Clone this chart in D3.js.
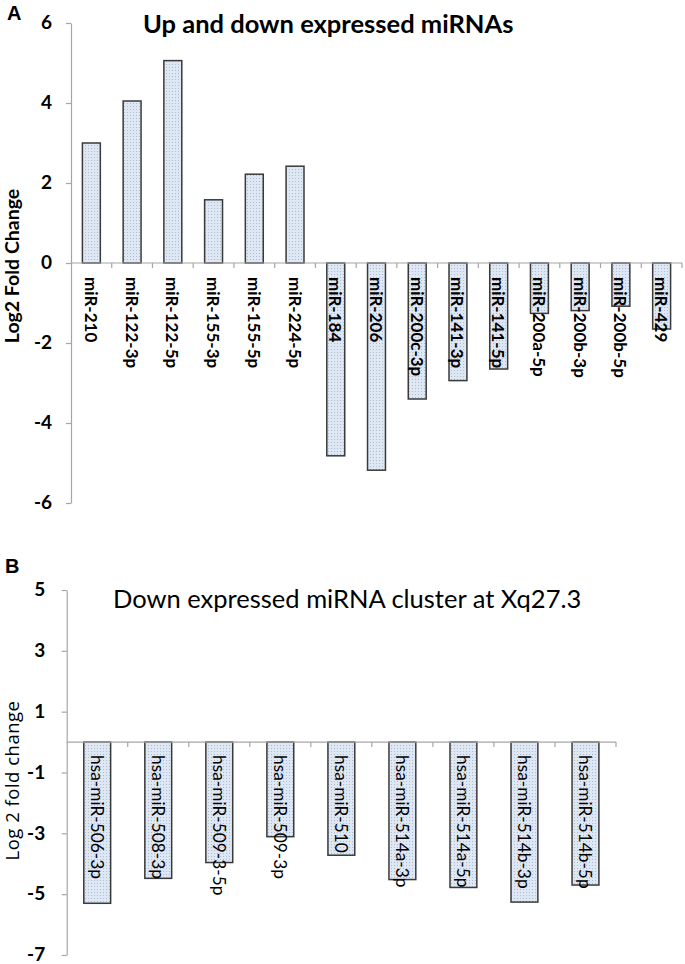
<!DOCTYPE html>
<html>
<head>
<meta charset="utf-8">
<script src="https://cdn.jsdelivr.net/npm/d3@7"></script>
<style>
  html, body { margin: 0; padding: 0; background: #fff; }
  svg { display: block; }
  text { font-family: Lato, "Open Sans", "DejaVu Sans", sans-serif; fill: #000; }
</style>
</head>
<body>
<svg id="chart" width="685" height="964"></svg>
<script>
// ---------- Data ----------
const catsA = ["miR-210","miR-122-3p","miR-122-5p","miR-155-3p","miR-155-5p","miR-224-5p",
               "miR-184","miR-206","miR-200c-3p","miR-141-3p","miR-141-5p","miR-200a-5p",
               "miR-200b-3p","miR-200b-5p","miR-429"];
const valsA = [3.0, 4.05, 5.06, 1.58, 2.22, 2.42, -4.82, -5.18, -3.4, -2.94, -2.65, -1.26, -1.19, -1.08, -1.65];
const ticksA = [-6, -4, -2, 0, 2, 4, 6];

const catsB = ["hsa-miR-506-3p","hsa-miR-508-3p","hsa-miR-509-3-5p","hsa-miR-509-3p","hsa-miR-510",
               "hsa-miR-514a-3p","hsa-miR-514a-5p","hsa-miR-514b-3p","hsa-miR-514b-5p"];
const valsB = [-5.3, -4.48, -3.96, -3.11, -3.72, -4.52, -4.78, -5.26, -4.7];
const ticksB = [-7, -5, -3, -1, 1, 3, 5];

const svg = d3.select("#chart");

// dotted fill pattern
const defs = svg.append("defs");
const pat = defs.append("pattern").attr("id", "dots")
  .attr("patternUnits", "userSpaceOnUse").attr("width", 3).attr("height", 3);
pat.append("rect").attr("width", 3).attr("height", 3).attr("fill", "#dee7f4");
pat.append("rect").attr("x", 1).attr("y", 1).attr("width", 1).attr("height", 1).attr("fill", "#b0bccd");

function panel(cfg) {
  const g = svg.append("g");
  const x = d3.scaleBand().domain(cfg.cats).range(cfg.xRange)
    .paddingInner(0.56).paddingOuter(0.28);
  const y = d3.scaleLinear().domain(cfg.yDomain).range(cfg.yRange);
  const step = x.step();

  // y axis
  const ya = g.append("g").attr("transform", `translate(${cfg.xRange[0]},0)`)
    .call(d3.axisLeft(y).tickValues(cfg.ticks).tickFormat(d => String(d))
      .tickSize(5).tickSizeOuter(0).tickPadding(cfg.tickPad));
  ya.select(".domain").attr("stroke", "#a6a6a6").attr("stroke-width", 1.2);
  ya.selectAll(".tick line").attr("stroke", "#a6a6a6").attr("stroke-width", 1.2);
  ya.selectAll(".tick text").style("font-family", "Lato, sans-serif")
    .attr("dy", "0.3em")
    .style("font-size", cfg.tickSize + "px").style("font-weight", "bold").attr("fill", "#000");

  // bars
  g.selectAll("rect.bar").data(cfg.vals).enter().append("rect").attr("class", "bar")
    .attr("x", (d, i) => x(cfg.cats[i]))
    .attr("width", x.bandwidth())
    .attr("y", d => y(Math.max(0, d)))
    .attr("height", d => Math.abs(y(d) - y(0)))
    .attr("fill", "url(#dots)")
    .attr("stroke", "#3a3a3a").attr("stroke-width", 1.5);

  // x axis line and boundary ticks
  const y0 = y(0);
  g.append("line").attr("x1", cfg.xRange[0]).attr("x2", cfg.xRange[1])
    .attr("y1", y0).attr("y2", y0).attr("stroke", "#a6a6a6").attr("stroke-width", 1.2);
  g.selectAll("line.xt").data(cfg.cats).enter().append("line").attr("class", "xt")
    .attr("x1", d => x(d) + x.bandwidth() / 2 + step / 2)
    .attr("x2", d => x(d) + x.bandwidth() / 2 + step / 2)
    .attr("y1", y0).attr("y2", y0 + 5)
    .attr("stroke", "#a6a6a6").attr("stroke-width", 1.2);

  // category labels, rotated
  g.selectAll("text.cat").data(cfg.cats).enter().append("text").attr("class", "cat")
    .attr("transform", d => `translate(${x(d) + x.bandwidth() / 2},${y0 + cfg.labelOffset}) rotate(90)`)
    .attr("dominant-baseline", "central")
    .style("font-size", cfg.labelSize + "px")
    .style("font-weight", cfg.labelWeight)
    .text(d => d);

  // titles
  g.append("text").attr("x", cfg.titleX).attr("y", cfg.titleY)
    .style("font-size", cfg.titleSize + "px").style("font-weight", cfg.titleWeight)
    .text(cfg.title);
  g.append("text")
    .attr("transform", `translate(${cfg.yTitleX},${(cfg.yRange[0] + cfg.yRange[1]) / 2 + cfg.yTitleDy}) rotate(-90)`)
    .attr("text-anchor", "middle").attr("dominant-baseline", "central")
    .style("font-family", cfg.yTitleFont)
    .style("letter-spacing", cfg.yTitleSpacing + "px")
    .style("font-size", cfg.yTitleSize + "px").style("font-weight", cfg.yTitleWeight)
    .text(cfg.yTitle);
  g.append("text").attr("x", cfg.letterX).attr("y", cfg.letterY)
    .style("font-family", "'Liberation Sans', Arial, sans-serif")
    .style("font-size", "20px").style("font-weight", "bold")
    .text(cfg.letter);
}

panel({
  cats: catsA, vals: valsA, ticks: ticksA, tickSize: 19,
  xRange: [71, 682], yDomain: [-6, 6], yRange: [503, 23], tickPad: 14,
  labelOffset: 14, labelSize: 17, labelWeight: "bold",
  title: "Up and down expressed miRNAs", titleX: 143, titleY: 33, titleSize: 25.5, titleWeight: "bold",
  yTitle: "Log2 Fold Change", yTitleX: 11, yTitleDy: 3, yTitleSize: 19.5, yTitleWeight: "bold",
  yTitleFont: "Lato, sans-serif", yTitleSpacing: 0,
  letter: "A", letterX: 7, letterY: 20
});

panel({
  cats: catsB, vals: valsB, ticks: ticksB, tickSize: 19,
  xRange: [66.7, 616], yDomain: [-7, 5], yRange: [955, 590], tickPad: 16.5,
  labelOffset: 13, labelSize: 17.3, labelWeight: "normal",
  title: "Down expressed miRNA cluster at Xq27.3", titleX: 113, titleY: 608, titleSize: 25.5, titleWeight: "normal",
  yTitle: "Log 2 fold change", yTitleX: 11, yTitleDy: 8, yTitleSize: 18.5, yTitleWeight: "normal",
  yTitleFont: "'Open Sans', sans-serif", yTitleSpacing: 0.5,
  letter: "B", letterX: 5, letterY: 573
});
</script>
</body>
</html>
